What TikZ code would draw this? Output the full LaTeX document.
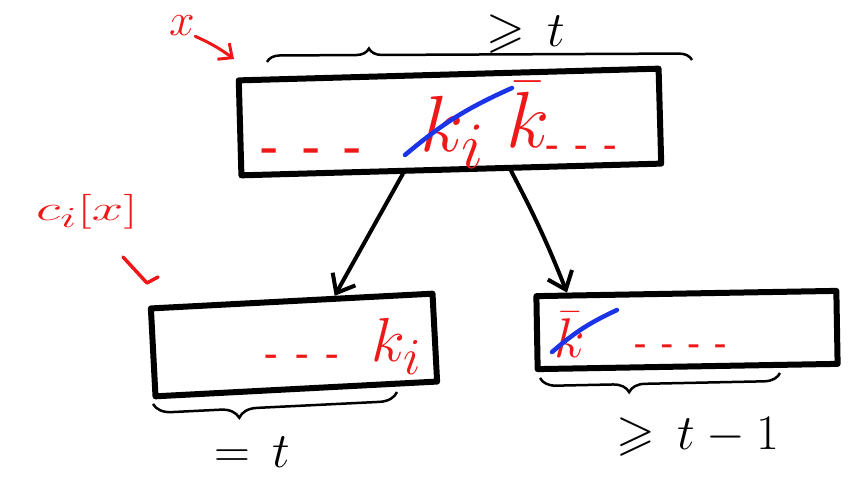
\documentclass[tikz,border=0pt]{standalone}
\usepackage{amsmath, amssymb}
\usetikzlibrary{arrows.meta, decorations.pathreplacing, calc}
\definecolor{pen}{RGB}{238,24,24}
\definecolor{hilite}{RGB}{28,52,232}
\newcommand{\gapdash}[1]{\bfseries-\hspace{#1}-\hspace{#1}-}

\begin{document}
\begin{tikzpicture}[x=1pt, y=-1pt, >={Straight Barb[length=16pt,width=26pt]},
  block/.style={draw, line width=6pt, inner sep=0pt, line join=round},
  redtxt/.style={text=pen, inner sep=0pt, anchor=base, font=\Huge},
  blktxt/.style={inner sep=0pt, font=\Huge, scale=2},
  arr/.style={->, line width=4pt, line cap=round},
  ink/.style={hilite, line width=4.5pt, line cap=round},
  brace/.style={decorate, line width=2.5pt, decoration={brace, amplitude=#1}}]
  \useasboundingbox (0,0) rectangle (852,478);
  % Blocks
  \node[block, minimum width=420pt, minimum height=95pt, rotate=1.6] (top) at (450,122) {};
  \node[block, minimum width=282pt, minimum height=88pt, rotate=3] (left) at (294,345) {};
  \node[block, minimum width=300pt, minimum height=73pt, rotate=1] (right) at (687,330) {};
  % Contents of the top block
  \node[redtxt, scale=1.9] (tdots) at (312,162) {\gapdash{0.5em}};
  \node[redtxt, scale=3.2] (tki) at (453,152) {$k_i$};
  \node[redtxt, scale=3.2] (tkb) at (528,148) {$\bar k$};
  \node[redtxt, scale=1.4] (tdotsr) at (582,156) {\gapdash{0.45em}};
  \coordinate (tb1) at (405,155); \coordinate (tb2) at (512,88);
  \draw[ink] (tb1) to[bend left=8] (tb2);
  % Contents of the lower blocks
  \node[redtxt, scale=1.4] (ldots) at (303,365) {\gapdash{0.5em}};
  \node[redtxt, scale=2.5] (lki) at (397,362) {$k_i$};
  \node[redtxt, scale=2.25] (rkb) at (570,358) {$\bar k$};
  \node[redtxt, scale=1.3] (rdots) at (681,354) {\bfseries -\hspace{0.45em}-\hspace{0.45em}-\hspace{0.45em}-};
  \coordinate (rb1) at (552,352); \coordinate (rb2) at (617,310);
  \draw[ink] (rb1) to[bend left=8] (rb2);
  % Children
  \draw[arr] ($(top.south west)!0.386!(top.south east)$) -- ($(left.north west)!0.65!(left.north east)$);
  \draw[arr] ($(top.south west)!0.64!(top.south east)$) to[bend left=3] ($(right.north west)!0.11!(right.north east)$);
  % Braces
  \coordinate (tbl) at (267,62); \coordinate (tbr) at (692,60);
  \draw[brace=13pt, decoration={aspect=0.24}] (tbl) -- (tbr);
  \node[blktxt] (tlen) at (526,34) {$\geqslant\,t$};
  \coordinate (lbl) at (153,404); \coordinate (lbr) at (397,392);
  \draw[brace=18pt, decoration={aspect=0.65}] (lbr) -- (lbl);
  \node[blktxt] (llen) at (252,452) {$=\,t$};
  \coordinate (rbl) at (540,378); \coordinate (rbr) at (780,373);
  \draw[brace=16pt, decoration={aspect=0.63}] (rbr) -- (rbl);
  \node[blktxt] (rlen) at (698,437) {$\geqslant\,t-1$};
  % Red notes
  \node[inner sep=0pt, text=pen, font=\Huge, scale=1.85] (xlbl) at (182,26) {$x$};
  \coordinate (xtip) at (234,59);
  \draw[arr, pen, line width=3pt, >={Straight Barb[length=11pt,width=20pt]}] (xlbl.south east) to[bend left=6] (xtip);
  \node[inner sep=0pt, text=pen, font=\Huge, xscale=2.3, yscale=1.4] (ci) at (87,212) {$c_i[x]$};
  \coordinate (h1) at (123,257); \coordinate (h2) at (147,283); \coordinate (h3) at (158,277);
  \draw[pen, line width=3.5pt, line cap=round, line join=round] (h1) -- (h2) -- (h3);
\end{tikzpicture}
\end{document}
